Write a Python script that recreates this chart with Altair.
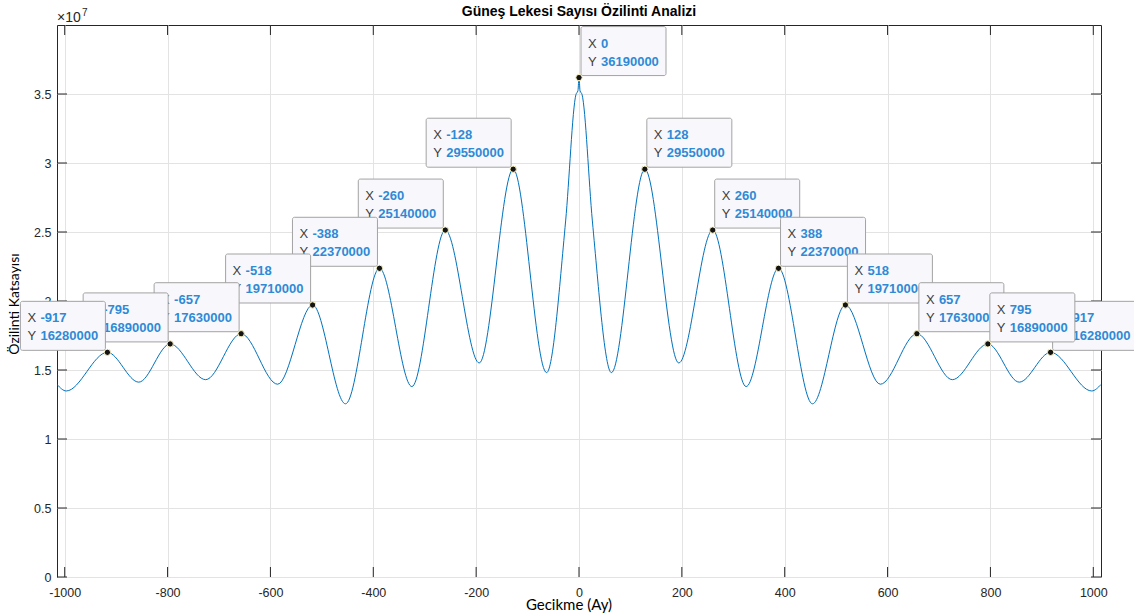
import altair as alt
import pandas as pd

# Autocorrelation of monthly sunspot numbers, read at its turning points
lags = [-1015, -997, -917, -856, -795, -726, -657, -586, -518, -454, -388, -325, -260, -194, -128,
        -63, -26, -6, -2, 0, 2, 6, 26, 63, 128, 194, 260, 325, 388, 454, 518, 586, 657, 726,
        795, 856, 917, 997, 1015]
acf = [13950000, 13480000, 16280000, 14120000, 16890000, 14300000, 17630000, 13970000, 19710000,
       12550000, 22370000, 13800000, 25140000, 15510000, 29550000, 14810000, 25800000, 34950000,
       35250000, 36190000, 35250000, 34950000, 25800000, 14810000, 29550000, 15510000, 25140000,
       13800000, 22370000, 12550000, 19710000, 13970000, 17630000, 14300000, 16890000, 14120000,
       16280000, 13480000, 13950000]

# Data tips placed on the peaks
tip_lags = [-917, -795, -657, -518, -388, -260, -128, 0, 128, 260, 388, 518, 657, 795, 917]
tip_vals = [16280000, 16890000, 17630000, 19710000, 22370000, 25140000, 29550000, 36190000,
            29550000, 25140000, 22370000, 19710000, 17630000, 16890000, 16280000]

x_ticks = [-1000, -800, -600, -400, -200, 0, 200, 400, 600, 800, 1000]
y_ticks = [0, 5000000, 10000000, 15000000, 20000000, 25000000, 30000000, 35000000]

title_text = "Güneş Lekesi Sayısı Özilinti Analizi"
x_title = "Gecikme (Ay)"
y_title = "Özilinti Katsayısı"

W, H = 1044, 552
X_DOM = [-1015, 1015]
Y_DOM = [0, 40000000]
FONT = "Liberation Sans"
AXIS_COLOR = "#262626"
GRID_COLOR = "#e3e3e3"
TICK_LEN = 10

xs = alt.Scale(domain=X_DOM, nice=False, zero=False)
ys = alt.Scale(domain=Y_DOM, nice=False, zero=False)

# one shared axis definition per direction, used by every layer on the scale
x_axis = alt.Axis(
    values=x_ticks, grid=True, gridColor=GRID_COLOR, gridWidth=1, ticks=False,
    domain=False, labelExpr="'' + datum.value", labelFont=FONT, labelFontSize=12.5,
    labelColor=AXIS_COLOR, labelPadding=9, title=None)
y_axis = alt.Axis(
    values=y_ticks, grid=True, gridColor=GRID_COLOR, gridWidth=1, ticks=False,
    domain=False, labelExpr="'' + datum.value / 10000000", labelFont=FONT,
    labelFontSize=12.5, labelColor=AXIS_COLOR, labelPadding=6, title=None)


def X(field):
    return alt.X(field, type="quantitative", scale=xs, axis=x_axis)


def Y(field):
    return alt.Y(field, type="quantitative", scale=ys, axis=y_axis)


curve = pd.DataFrame({"lag": lags, "acf": acf})

line = alt.Chart(curve).mark_line(
    interpolate="monotone", color="#0072BD", strokeWidth=1, clip=True
).encode(x=X("lag"), y=Y("acf"))

# inward tick marks on all four sides of the box
xt = pd.DataFrame({"lag": x_ticks})
yt = pd.DataFrame({"acf": y_ticks})
rule_kw = dict(color=AXIS_COLOR, strokeWidth=1)
tick_bottom = alt.Chart(xt).mark_rule(**rule_kw).encode(
    x=X("lag"), y=alt.value(H), y2=alt.value(H - TICK_LEN))
tick_top = alt.Chart(xt).mark_rule(**rule_kw).encode(
    x=X("lag"), y=alt.value(0), y2=alt.value(TICK_LEN))
tick_left = alt.Chart(yt).mark_rule(**rule_kw).encode(
    y=Y("acf"), x=alt.value(0), x2=alt.value(TICK_LEN))
tick_right = alt.Chart(yt).mark_rule(**rule_kw).encode(
    y=Y("acf"), x=alt.value(W), x2=alt.value(W - TICK_LEN))


def label(text, x, y, **kw):
    return alt.Chart(pd.DataFrame({"s": [text]})).mark_text(**kw).encode(
        x=alt.value(x), y=alt.value(y), text="s:N")


title = label(title_text, W / 2, -13, font=FONT, fontSize=14, fontWeight="bold",
              color="#000000", baseline="middle", align="center")
exp_base = label("×10", 0, -3, font=FONT, fontSize=14, color=AXIS_COLOR,
                 align="left", baseline="alphabetic")
exp_pow = label("7", 25, -9, font=FONT, fontSize=10, color=AXIS_COLOR,
                align="left", baseline="alphabetic")
xlab = label(x_title, W / 2 - 10, H + 28, font="Lato", fontSize=15, color="#000000",
             align="center", baseline="middle")
ylab = label(y_title, -42, 279, font="Lato", fontSize=14, color="#000000",
             align="center", baseline="middle", angle=270)

# data tips: box, "X"/"Y" captions and values; outer tips are stacked above inner ones
tips = pd.DataFrame({"lag": tip_lags, "acf": tip_vals})
tips["xs"] = tips["lag"].astype(str)
tips["ys"] = tips["acf"].astype(str)
stack_order = [917, 0, 128, 260, 388, 518, 657, 795, -128, -260, -388, -518, -657, -795, -917]

tip_layers = []
for lag in stack_order:
    sub = tips[tips["lag"] == lag]
    c = alt.Chart(sub)
    enc = dict(x=X("lag"), y=Y("acf"))
    x0 = -87 if lag < 0 else 2
    box = c.mark_rect(
        fill="#f8f8fc", stroke="#a3a3a3", strokeWidth=1, cornerRadius=2,
        xOffset=x0, x2Offset=x0 + 85, yOffset=-51, y2Offset=-2,
    ).encode(x2=alt.X2("lag"), y2=alt.Y2("acf"), **enc)
    cap = dict(font=FONT, fontSize=13, baseline="middle", align="left", color="#404040")
    val = dict(font=FONT, fontSize=13, baseline="middle", align="left", color="#2f8ad6",
               fontWeight="bold")
    cx = c.mark_text(text="X", dx=x0 + 7, dy=-34, **cap).encode(**enc)
    cy = c.mark_text(text="Y", dx=x0 + 7, dy=-16, **cap).encode(**enc)
    vx = c.mark_text(dx=x0 + 20, dy=-34, **val).encode(text="xs:N", **enc)
    vy = c.mark_text(dx=x0 + 20, dy=-16, **val).encode(text="ys:N", **enc)
    tip_layers += [box, cx, cy, vx, vy]

dots = alt.Chart(tips).mark_circle(
    size=40, fill="#141414", stroke="#fbf3c0", strokeWidth=1, opacity=1
).encode(x=X("lag"), y=Y("acf"))

chart = alt.layer(
    line, xlab, ylab, title, exp_base, exp_pow,
    tick_bottom, tick_top, tick_left, tick_right,
    *tip_layers, dots,
).properties(
    width=W, height=H,
    padding={"left": 57, "top": 25, "right": 33, "bottom": 38},
    autosize=alt.AutoSizeParams(type="none"),
    background="white",
).configure_view(stroke=AXIS_COLOR, strokeWidth=1)

chart.save("out.html", embed_options={"renderer": "svg", "actions": False})
